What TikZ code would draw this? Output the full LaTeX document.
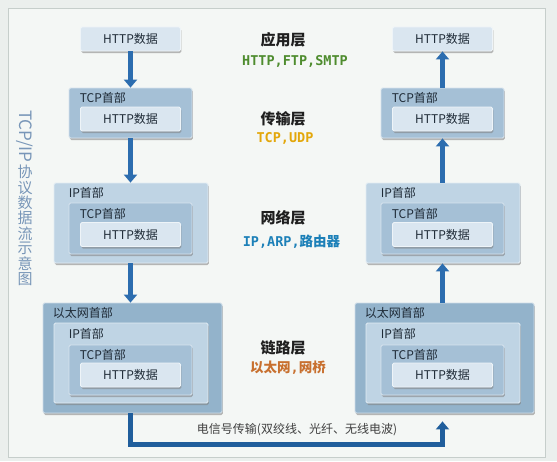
\documentclass[tikz,border=0pt]{standalone}
\usepackage{fontspec}
\setmainfont{Noto Sans CJK SC}
\newfontfamily\protofont{DejaVu Sans Mono}
\usetikzlibrary{arrows.meta}
\usetikzlibrary{shadows}
\usetikzlibrary{positioning}
\definecolor{pagebg}{HTML}{EBEFED}
\definecolor{innerbg}{HTML}{F4F7F5}
\definecolor{framegray}{HTML}{C6CECB}
\definecolor{ethfill}{HTML}{93B3CB}
\definecolor{ipfill}{HTML}{BFD4E4}
\definecolor{tcpfill}{HTML}{A5C0D6}
\definecolor{httpfill}{HTML}{DAE6F0}
\definecolor{boxtext}{HTML}{1E2A36}
\definecolor{flowblue}{HTML}{2C6DAF}
\definecolor{wireblue}{HTML}{205E9C}
\definecolor{sidetext}{HTML}{7896B8}
\definecolor{protogreen}{HTML}{4E8C2E}
\definecolor{protogold}{HTML}{E3A70A}
\definecolor{protoblue}{HTML}{1C80B8}
\definecolor{protoorange}{HTML}{C8702F}

\begin{document}
\begin{tikzpicture}[x=1pt, y=-1pt, box/.style={draw=white!55!#1, fill=#1, line width=0.8pt, rounded corners=1.5pt, inner sep=0pt, text=boxtext, drop shadow={shadow xshift=0.8pt, shadow yshift=-2pt, opacity=0.55}}]
    \tikzset{httpbox/.style={box=httpfill, minimum width=100pt, minimum height=24pt, font=\fontsize{12}{14}\selectfont}}
    \tikzset{tcpbox/.style={box=tcpfill, minimum width=123pt}, ipbox/.style={box=ipfill, minimum width=154pt}, ethbox/.style={box=ethfill, minimum width=179pt}}
    \tikzset{hdr/.style={anchor=west, inner sep=0pt, text=boxtext, font=\fontsize{12}{14}\selectfont}}
    \tikzset{lay/.style={font=\fontsize{15}{18}\selectfont\bfseries, text=black!88}, proto/.style={font=\fontsize{13.5}{16}\selectfont\bfseries}}
    \tikzset{flow/.style={draw=flowblue, line width=5pt, -{Triangle[width=13pt, length=8pt]}}}
    \useasboundingbox (0,0) rectangle (557,461);
    \fill[pagebg] (0,0) rectangle (557,461);
    \draw[framegray, fill=innerbg] (8,8) rectangle (545,457);

    % both columns, the right one shifted by \dx
    \foreach \s/\dx in {l/0, r/312} {
    \node[httpbox] (\s-http1) at (130.5+\dx,39) {HTTP数据};

    \node[tcpbox, minimum height=50pt] (\s-tcp2) at (130.5+\dx,113) {};
    \node[hdr] (\s-tcp2-h) at ([xshift=11pt, yshift=-10pt]\s-tcp2.north west) {TCP首部};
    \node[httpbox] (\s-http2) at (130.5+\dx,119) {HTTP数据};

    \node[ipbox, minimum height=80pt] (\s-ip3) at (131+\dx,223) {};
    \node[hdr] (\s-ip3-h) at ([xshift=15pt, yshift=-10pt]\s-ip3.north west) {IP首部};
    \node[tcpbox, minimum height=51pt] (\s-tcp3) at (130.5+\dx,228.5) {};
    \node[hdr] (\s-tcp3-h) at ([xshift=11pt, yshift=-11pt]\s-tcp3.north west) {TCP首部};
    \node[httpbox] (\s-http3) at (130.5+\dx,234.5) {HTTP数据};

    \node[ethbox, minimum height=110pt] (\s-eth4) at (132.5+\dx,358) {};
    \node[hdr] (\s-eth4-h) at ([xshift=10pt, yshift=-10pt]\s-eth4.north west) {以太网首部};
    \node[ipbox, minimum height=80pt] (\s-ip4) at (131+\dx,363) {};
    \node[hdr] (\s-ip4-h) at ([xshift=15pt, yshift=-11pt]\s-ip4.north west) {IP首部};
    \node[tcpbox, minimum height=50pt] (\s-tcp4) at (130.5+\dx,370) {};
    \node[hdr] (\s-tcp4-h) at ([xshift=11pt, yshift=-10pt]\s-tcp4.north west) {TCP首部};
    \node[httpbox] (\s-http4) at (130.5+\dx,375) {HTTP数据};
    }

    \draw[flow] (l-http1.south) -- (l-http1 |- l-tcp2.north);
    \draw[flow] (l-tcp2.south -| l-http1) -- (l-http1 |- l-ip3.north);
    \draw[flow] (l-ip3.south -| l-http1) -- (l-http1 |- l-eth4.north);

    \draw[flow] (r-tcp2.north -| r-http1) -- (r-http1.south);
    \draw[flow] (r-ip3.north -| r-http1) -- (r-http1 |- r-tcp2.south);
    \draw[flow] (r-eth4.north -| r-http1) -- (r-http1 |- r-ip3.south);

    \draw[flow, draw=wireblue, line width=5.5pt, shorten >=8pt] (l-eth4.south -| l-http1) -- ++(0,31) -| (r-http1 |- r-eth4.south);
    \node[font=\fontsize{12}{14}\selectfont, text=black!75] (wire) at (297,430) {电信号传输(双绞线、光纤、无线电波)};

    \node[lay] (app) at (283,40) {应用层};
    \node[proto, text=protogreen] (app-p) at (295,61) {\protofont HTTP,FTP,SMTP};
    \node[lay] (trans) at (283,118.5) {传输层};
    \node[proto, text=protogold] (trans-p) at (285,138) {\protofont TCP,UDP};
    \node[lay] (net) at (283,218) {网络层};
    \node[proto, text=protoblue] (net-p) at (291.5,242) {{\protofont IP,ARP,}路由器};
    \node[lay] (link) at (283,348) {链路层};
    \node[proto, text=protoorange] (link-p) at (288,368) {以太网{\protofont ,}网桥};

    % vertical title
    \node[rotate=-90, anchor=west, inner sep=0pt, text=sidetext, font=\fontsize{17}{18}\selectfont] (side) at (25,110) {TCP/IP};
    \foreach \c [count=\i] in {协,议,数,据,流,示,意,图} {
    \node[inner sep=0pt, text=sidetext, font=\fontsize{15}{18}\selectfont] (side\i) at (25,{157+15.3*\i}) {\c};
    }
\end{tikzpicture}
\end{document}
